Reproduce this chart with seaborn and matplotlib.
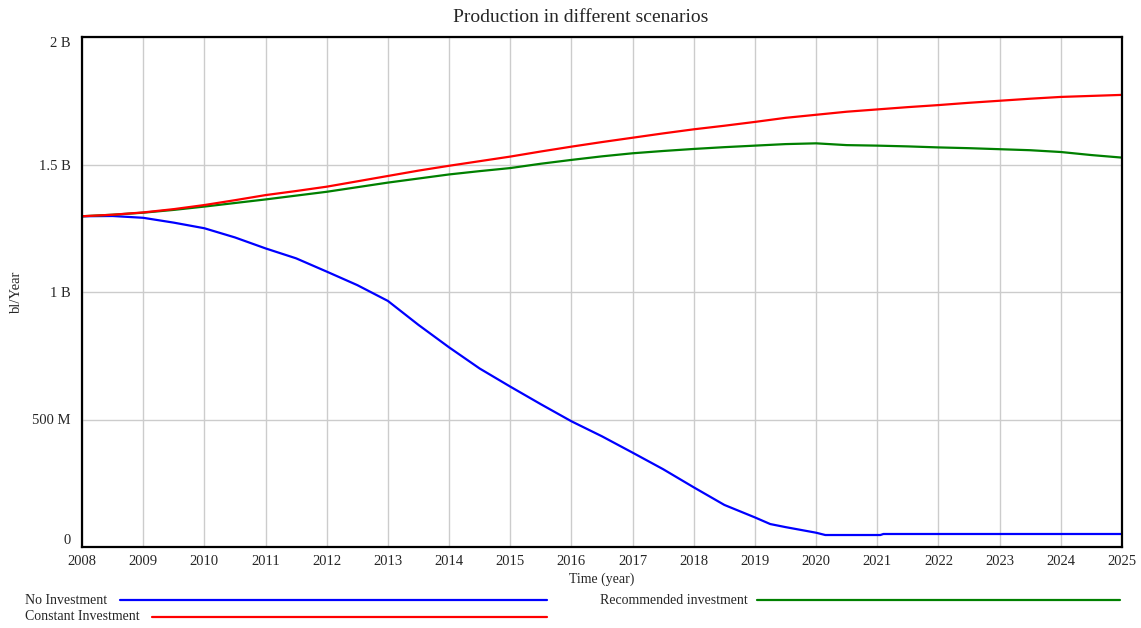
import numpy as np
import pandas as pd
import seaborn as sns
import matplotlib.pyplot as plt
from matplotlib.lines import Line2D
from matplotlib.ticker import FixedLocator

# values in billions of barrels per year
years = [2008, 2008.5, 2009, 2009.5, 2010, 2010.5, 2011, 2011.5, 2012, 2012.5,
         2013, 2013.5, 2014, 2014.5, 2015, 2015.5, 2016, 2016.5, 2017, 2017.5,
         2018, 2018.5, 2019, 2019.5, 2020, 2020.5, 2021, 2021.5, 2022, 2022.5,
         2023, 2023.5, 2024, 2024.5, 2025]
constant_inv = [1.297, 1.303, 1.312, 1.325, 1.341, 1.360, 1.380, 1.396, 1.413, 1.434,
                1.455, 1.476, 1.495, 1.513, 1.531, 1.551, 1.570, 1.588, 1.605, 1.622,
                1.638, 1.652, 1.667, 1.683, 1.695, 1.707, 1.716, 1.725, 1.733, 1.742,
                1.750, 1.758, 1.765, 1.769, 1.773]
recommended_inv = [1.297, 1.303, 1.311, 1.322, 1.335, 1.349, 1.363, 1.378, 1.393, 1.411,
                   1.429, 1.445, 1.461, 1.474, 1.486, 1.503, 1.518, 1.532, 1.544, 1.553,
                   1.561, 1.568, 1.574, 1.580, 1.583, 1.576, 1.574, 1.571, 1.567, 1.564,
                   1.560, 1.556, 1.549, 1.537, 1.527]

no_inv_years = [2008, 2008.5, 2009, 2009.5, 2010, 2010.5, 2011, 2011.5, 2012, 2012.5,
                2013, 2013.5, 2014, 2014.5, 2015, 2015.5, 2016, 2016.5, 2017, 2017.5,
                2018, 2018.5, 2019, 2019.25, 2019.5, 2020, 2020.15, 2021.05, 2021.1, 2025]
no_inv = [1.297, 1.298, 1.291, 1.272, 1.250, 1.214, 1.171, 1.132, 1.080, 1.027,
          0.965, 0.871, 0.783, 0.700, 0.629, 0.560, 0.493, 0.434, 0.370, 0.305,
          0.234, 0.165, 0.116, 0.090, 0.078, 0.056, 0.047, 0.047, 0.051, 0.051]

y_ticks = [0, 0.5, 1.0, 1.5, 2.0]
y_tick_labels = ['0', '500 M', '1 B', '1.5 B', '2 B']
x_ticks = list(range(2008, 2026))

sns.set_style('white')
plt.rcParams['font.family'] = ['Liberation Serif', 'DejaVu Serif']

fig = plt.figure(figsize=(11.41, 6.28), dpi=100)
ax = fig.add_axes([82 / 1141, 1 - 547 / 628, 1040 / 1141, 510 / 628])

df_no = pd.DataFrame({'Time': no_inv_years, 'Value': no_inv})
df_c = pd.DataFrame({'Time': years, 'Value': constant_inv})
df_r = pd.DataFrame({'Time': years, 'Value': recommended_inv})

sns.lineplot(data=df_no, x='Time', y='Value', color='#0000ff', lw=1.6, ax=ax)
sns.lineplot(data=df_r, x='Time', y='Value', color='#008000', lw=1.6, ax=ax)
sns.lineplot(data=df_c, x='Time', y='Value', color='#ff0000', lw=1.6, ax=ax)

ax.set_xlim(2008, 2025)
ax.set_ylim(0, 2)
ax.xaxis.set_major_locator(FixedLocator(x_ticks))
ax.set_xticklabels([str(x) for x in x_ticks], fontsize=10.5)
ax.yaxis.set_major_locator(FixedLocator(y_ticks))
ylabs = ax.set_yticklabels(y_tick_labels, fontsize=10.5)
# end labels are pulled inside the frame
ylabs[0].set_va('bottom')
ylabs[-1].set_va('top')
ax.tick_params(axis='y', length=0, pad=8)
ax.tick_params(axis='x', length=0, pad=6)
ax.grid(True, color='#cccccc', lw=1)
ax.set_axisbelow(True)
for s in ax.spines.values():
    s.set_color('black')
    s.set_linewidth(1.6)

ax.set_xlabel('Time (year)', fontsize=10)
ax.xaxis.set_label_coords(0.5, -0.05)
ax.set_ylabel('')
fig.text(16 / 1141, 1 - 292 / 628, 'bl/Year', rotation=90,
         ha='center', va='center', fontsize=10.5)

fig.text(581 / 1141, 1 - 17 / 628, 'Production in different scenarios',
         ha='center', va='center', fontsize=14)

# legend below the plot, drawn like the original tool's key
legend_items = [
    ('No Investment', '#0000ff', 25, 120, 547, 600),
    ('Constant Investment', '#ff0000', 25, 152, 547, 617),
    ('Recommended investment', '#008000', 600, 757, 1120, 600),
]
for label, col, tx, x0, x1, yy in legend_items:
    fig.text(tx / 1141, 1 - yy / 628, label, ha='left', va='center', fontsize=10)
    fig.add_artist(Line2D([x0 / 1141, x1 / 1141], [1 - yy / 628, 1 - yy / 628],
                          color=col, lw=1.6, transform=fig.transFigure))

fig.savefig('out.png', dpi=100)
